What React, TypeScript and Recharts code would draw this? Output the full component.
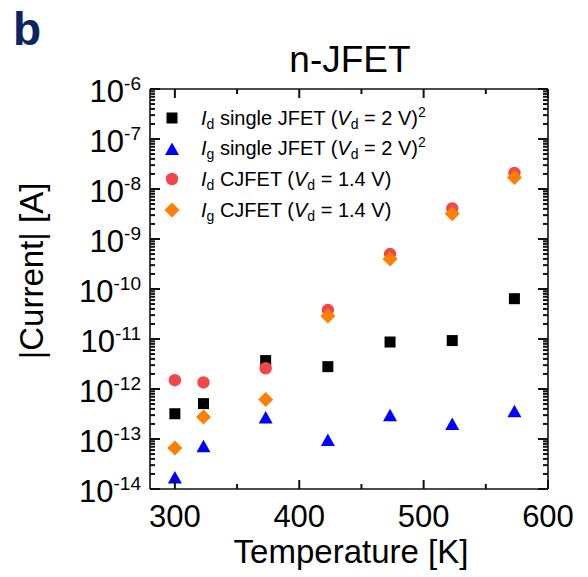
import React from 'react';
import { ScatterChart, Scatter, XAxis, YAxis, Legend, Label, ReferenceLine } from 'recharts';

const temperatures = [300, 323, 373, 423, 473, 523, 573];
const idSingle = [3.2e-13, 5.1e-13, 3.7e-12, 2.8e-12, 8.7e-12, 9.3e-12, 6.4e-11];
const igSingle = [1.7e-14, 7.2e-14, 2.7e-13, 9.5e-14, 3.0e-13, 2.0e-13, 3.6e-13];
const idCJ = [1.5e-12, 1.35e-12, 2.6e-12, 3.8e-11, 5.0e-10, 4.1e-9, 2.1e-8];
const igCJ = [6.6e-14, 2.75e-13, 6.2e-13, 2.9e-11, 4.0e-10, 3.2e-9, 1.7e-8];

const xTicks = [300, 350, 400, 450, 500, 550, 600];
const xLabelTicks = [300, 400, 500, 600];
const decades = [-14, -13, -12, -11, -10, -9, -8, -7];
const yTicks: number[] = [];
decades.forEach((e) => {
  for (let m = 1; m <= 9; m++) yTicks.push(Number((m * Math.pow(10, e)).toPrecision(6)));
});
yTicks.push(1e-6);

const X_DOMAIN: [number, number] = [280, 600];
const Y_DOMAIN: [number, number] = [1e-14, 1e-6];

const FONT = '"Liberation Sans", Arial, Helvetica, sans-serif';
const AXIS = '#111111';
const COLORS = { black: '#000000', blue: '#0000ff', red: '#f0474b', orange: '#ff8000' };

// layout
const W = 588;
const H = 577;
const M_TOP = 89;
const M_RIGHT = 40;
const Y_AXIS_W = 150;
const X_AXIS_H = 88;
const PLOT_W = W - Y_AXIS_W - M_RIGHT;
const PLOT_H = H - M_TOP - X_AXIS_H;
const MAJOR_LEN = 10;
const MINOR_LEN = 5;
const TICK_W = 2;

const toData = (vals: number[]) => temperatures.map((t, i) => ({ x: t, y: vals[i] }));

const isMajor = (v: number) => {
  const l = Math.log10(v);
  return Math.abs(l - Math.round(l)) < 1e-6;
};

const squareShape = (cx: number, cy: number) => (
  <rect x={cx - 5.5} y={cy - 5.5} width={11} height={11} fill={COLORS.black} />
);
const triangleShape = (cx: number, cy: number) => (
  <polygon points={`${cx},${cy - 6.5} ${cx + 7},${cy + 6} ${cx - 7},${cy + 6}`} fill={COLORS.blue} />
);
const circleShape = (cx: number, cy: number) => <circle cx={cx} cy={cy} r={6.2} fill={COLORS.red} />;
const diamondShape = (cx: number, cy: number) => (
  <polygon points={`${cx},${cy - 7.5} ${cx + 7.5},${cy} ${cx},${cy + 7.5} ${cx - 7.5},${cy}`} fill={COLORS.orange} />
);

const sub = (s: string) => <span style={{ fontSize: 14, position: 'relative', top: 4 }}>{s}</span>;
const sup = (s: string) => <span style={{ fontSize: 14, position: 'relative', top: -8 }}>{s}</span>;

const legendItems = [
  { shape: squareShape, label: <span><i>I</i>{sub('d')} single JFET (<i>V</i>{sub('d')} = 2 V){sup('2')}</span> },
  { shape: triangleShape, label: <span><i>I</i>{sub('g')} single JFET (<i>V</i>{sub('d')} = 2 V){sup('2')}</span> },
  { shape: circleShape, label: <span><i>I</i>{sub('d')} CJFET (<i>V</i>{sub('d')} = 1.4 V)</span> },
  { shape: diamondShape, label: <span><i>I</i>{sub('g')} CJFET (<i>V</i>{sub('d')} = 1.4 V)</span> },
];

const renderLegend = () => (
  <div style={{ fontFamily: FONT, fontSize: 20, color: '#000' }}>
    {legendItems.map((it, i) => (
      <div key={i} style={{ display: 'flex', alignItems: 'center', height: 30.6, whiteSpace: 'nowrap' }}>
        <svg width={30} height={30} style={{ flex: 'none' }}>{it.shape(15, 15)}</svg>
        <span style={{ marginLeft: 14 }}>{it.label}</span>
      </div>
    ))}
  </div>
);

const LeftTick = (props: any) => {
  const x = Number(props.x);
  const y = Number(props.y);
  const v = props.payload.value;
  const major = isMajor(v);
  const len = major ? MAJOR_LEN : MINOR_LEN;
  const xr = x + PLOT_W;
  const exp = Math.round(Math.log10(v));
  return (
    <g>
      <line x1={x} x2={x + len} y1={y} y2={y} stroke={AXIS} strokeWidth={TICK_W} />
      <line x1={xr - len} x2={xr} y1={y} y2={y} stroke={AXIS} strokeWidth={TICK_W} />
      {major && (
        <text x={x - 9} y={y + 13} textAnchor="end" fontSize={31} fontFamily={FONT} fill="#000">
          <tspan>10</tspan>
          <tspan dy={-12} fontSize={19}>{String(exp)}</tspan>
        </text>
      )}
    </g>
  );
};

const BottomTick = (props: any) => {
  const x = Number(props.x);
  const y = Number(props.y);
  const value = props.payload.value;
  const major = xLabelTicks.includes(value);
  const len = major ? 9 : MINOR_LEN;
  const yt = y - PLOT_H;
  return (
    <g>
      <line x1={x} x2={x} y1={y - len} y2={y} stroke={AXIS} strokeWidth={TICK_W} />
      <line x1={x} x2={x} y1={yt} y2={yt + len} stroke={AXIS} strokeWidth={TICK_W} />
      {major && (
        <text x={x} y={y + 38} textAnchor="middle" fontSize={31} fontFamily={FONT} fill="#000">
          {value}
        </text>
      )}
    </g>
  );
};

const mkShape = (fn: (cx: number, cy: number) => React.ReactElement) => (p: any) => fn(p.cx, p.cy);

export default function App() {
  return (
    <div style={{ position: 'absolute', left: 0, top: 0, width: W, height: H, background: '#fff' }}>
      <ScatterChart width={W} height={H} margin={{ top: M_TOP, right: M_RIGHT, bottom: 0, left: 0 }}>
        <XAxis
          dataKey="x"
          type="number"
          domain={X_DOMAIN}
          ticks={xTicks}
          interval={0}
          allowDataOverflow
          height={X_AXIS_H}
          tickSize={0}
          tickMargin={0}
          axisLine={{ stroke: AXIS, strokeWidth: 1.6 }}
          tick={<BottomTick />}
        >
          <Label
            content={() => (
              <g>
                <text x={351} y={563} textAnchor="middle" fontSize={33} fontFamily={FONT} fill="#000">
                  Temperature [K]
                </text>
                <text x={350} y={72} textAnchor="middle" fontSize={37} fontFamily={FONT} fill="#000">
                  n-JFET
                </text>
                <text x={13} y={45} fontSize={46} fontWeight="bold" fontFamily={FONT} fill="#0c2461">
                  b
                </text>
              </g>
            )}
          />
        </XAxis>
        <YAxis
          dataKey="y"
          type="number"
          scale="log"
          domain={Y_DOMAIN}
          ticks={yTicks}
          interval={0}
          allowDataOverflow
          width={Y_AXIS_W}
          tickSize={0}
          tickMargin={0}
          axisLine={{ stroke: AXIS, strokeWidth: 1.6 }}
          tick={<LeftTick />}
        >
          <Label
            content={() => (
              <text
                x={43}
                y={271}
                transform="rotate(-90 43 271)"
                textAnchor="middle"
                fontSize={33}
                fontFamily={FONT}
                fill="#000"
              >
                |Current| [A]
              </text>
            )}
          />
        </YAxis>
        <ReferenceLine y={Y_DOMAIN[1]} stroke={AXIS} strokeWidth={1.6} ifOverflow="visible" />
        <ReferenceLine x={X_DOMAIN[1]} stroke={AXIS} strokeWidth={1.6} ifOverflow="visible" />
        <Legend
          layout="vertical"
          align="center"
          verticalAlign="middle"
          wrapperStyle={{ position: 'absolute', left: 157, top: 103, width: 'auto', height: 'auto' }}
          content={renderLegend}
        />
        <Scatter name="Id single" data={toData(idSingle)} shape={mkShape(squareShape)} isAnimationActive={false} />
        <Scatter name="Ig single" data={toData(igSingle)} shape={mkShape(triangleShape)} isAnimationActive={false} />
        <Scatter name="Id CJFET" data={toData(idCJ)} shape={mkShape(circleShape)} isAnimationActive={false} />
        <Scatter name="Ig CJFET" data={toData(igCJ)} shape={mkShape(diamondShape)} isAnimationActive={false} />
      </ScatterChart>
    </div>
  );
}
